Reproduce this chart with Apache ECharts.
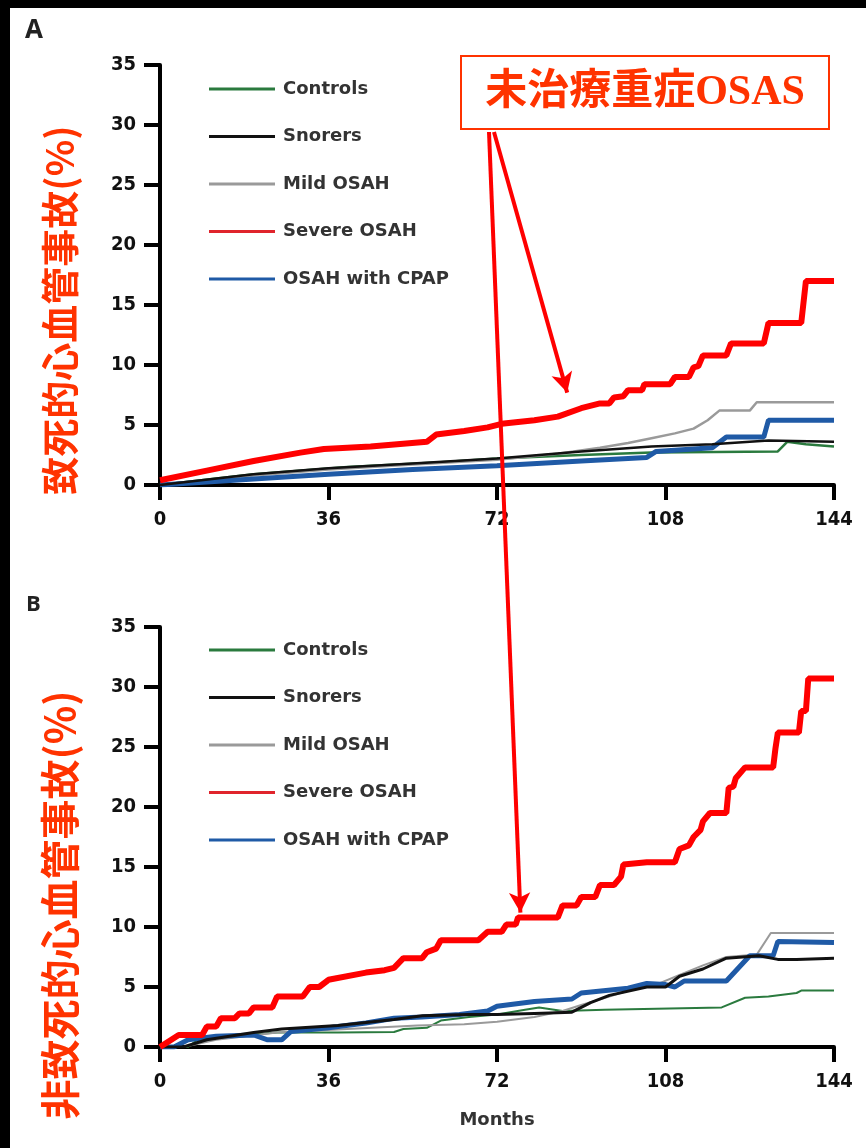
<!DOCTYPE html>
<html>
<head>
<meta charset="utf-8">
<script src="https://cdn.jsdelivr.net/npm/echarts@6/dist/echarts.min.js"></script>
<style>
  html, body { margin: 0; padding: 0; background: #fff; }
  #chart { width: 866px; height: 1148px; }
</style>
</head>
<body>
<div id="chart"></div>
<script>
// months axis + ticks
const monthTicks = [0, 36, 72, 108, 144]
const percentTicks = [0, 5, 10, 15, 20, 25, 30, 35]
const groupNames = ['Controls', 'Snorers', 'Mild OSAH', 'Severe OSAH', 'OSAH with CPAP']

// Panel A: fatal cardiovascular events, [month, %]
const aControls = [[0,0],[20,0.9],[40,1.5],[60,1.9],[72,2.2],[90,2.5],[105,2.7],[132,2.8],[134,3.6],[138,3.4],[144,3.2]]
const aSnorers = [[0,0],[20,0.9],[36,1.4],[54,1.8],[72,2.2],[90,2.8],[105,3.2],[118,3.4],[130,3.7],[144,3.6]]
const aMild = [[0,0],[20,0.8],[36,1.3],[54,1.7],[72,2.1],[85,2.6],[94,3.1],[100,3.5],[105,3.9],[110,4.3],[114,4.7],[117,5.4],[119.5,6.2],[126,6.2],[127.5,6.9],[144,6.9]]
const aSevere = [[0,0.4],[10,1.2],[20,2.0],[30,2.7],[35,3.0],[45,3.2],[57,3.6],[59,4.2],[65,4.5],[70,4.8],[73,5.1],[80,5.4],[85,5.7],[90,6.4],[94,6.8],[96,6.8],[97,7.3],[99,7.4],[100,7.9],[103,7.9],[103.5,8.4],[109,8.4],[110,9.0],[113,9.0],[114,9.8],[115,9.9],[116,10.8],[121,10.8],[122,11.8],[129,11.8],[130,13.5],[137,13.5],[138,17],[144,17]]
const aCpap = [[0,0],[20,0.5],[36,0.9],[54,1.3],[72,1.6],[90,2.0],[104,2.3],[106,2.8],[118,3.1],[121,4.0],[129,4.0],[130,5.4],[144,5.4]]

// Panel B: non-fatal cardiovascular events, [month, %]
const bControls = [[0,0],[6,0],[8,0.6],[15,0.9],[25,1.2],[38,1.2],[50,1.25],[52,1.5],[57,1.6],[60,2.2],[66,2.5],[72,2.7],[78,3.1],[81,3.3],[86,3.0],[95,3.1],[120,3.3],[125,4.1],[130,4.2],[136,4.5],[137,4.7],[144,4.7]]
const bSnorers = [[0,0],[5,0],[10,0.6],[20,1.2],[26,1.5],[38,1.8],[50,2.3],[56,2.6],[66,2.7],[72,2.7],[80,2.8],[88,2.9],[92,3.7],[96,4.3],[104,5.0],[108,5.0],[111,5.9],[116,6.5],[121,7.4],[128,7.6],[132,7.3],[136,7.3],[144,7.4]]
const bMild = [[0,0],[5,0],[12,0.6],[25,1.2],[40,1.5],[55,1.8],[65,1.9],[72,2.1],[80,2.5],[86,3.0],[90,3.5],[96,4.2],[101,4.8],[106,5.2],[111,6.0],[116,6.8],[121,7.5],[127.5,7.7],[130.5,9.5],[144,9.5]]
const bSevere = [[0,0],[4,1.0],[9,1.0],[10,1.7],[12,1.7],[13,2.4],[16,2.4],[17,2.8],[19,2.8],[20,3.3],[24,3.3],[25,4.2],[30.5,4.2],[32,5.0],[34,5.0],[36,5.6],[44,6.2],[48,6.4],[50,6.6],[52,7.4],[56,7.4],[57,7.9],[59,8.2],[60,8.9],[68,8.9],[70,9.6],[73,9.6],[74,10.2],[76,10.2],[76.5,10.8],[85,10.8],[86,11.8],[89,11.8],[90,12.5],[93,12.5],[94,13.5],[97,13.5],[98.5,14.2],[99,15.2],[104,15.4],[110,15.4],[111,16.5],[113,16.8],[114,17.5],[115.5,18.1],[116,18.8],[117.5,19.5],[121,19.5],[121.5,21.6],[122.5,21.7],[123,22.4],[125,23.3],[131,23.3],[131.5,24.9],[132,26.2],[136.5,26.2],[137,28.0],[138,28.0],[138.5,30.7],[144,30.7]]
const bCpap = [[0,0],[3,0],[6,0.6],[12,0.9],[20,1.0],[23,0.6],[26,0.6],[28,1.3],[36,1.6],[44,2.0],[50,2.4],[56,2.5],[64,2.7],[70,3.0],[72,3.4],[80,3.8],[88,4.0],[90,4.5],[100,4.9],[104,5.3],[108,5.2],[110,5.0],[112,5.5],[121,5.5],[126,7.6],[131,7.6],[132,8.8],[144,8.7]]

// arrow targets (month, %)
const arrowTargetA = [87, 7.7]
const arrowTargetB = [77, 11.2]

const colors = {
  'Controls': '#2a7a3e',
  'Snorers': '#111111',
  'Mild OSAH': '#9a9a9a',
  'Severe OSAH': '#ff0000',
  'OSAH with CPAP': '#1f5aa6',
}
const legendColors = Object.assign({}, colors, { 'Severe OSAH': '#e0242c' })

const numFont = "'Liberation Sans Narrow', 'DejaVu Sans Condensed', sans-serif"
const textFont = "'Open Sans', 'Lato', sans-serif"
const legendFont = "'DejaVu Sans', sans-serif"
const cjkFont = "'Noto Sans CJK JP', 'Noto Sans CJK SC', sans-serif"
const red = '#ff3300'

const chart = echarts.init(document.getElementById('chart'), null, { renderer: 'canvas' })

function makeXAxis(gridIndex, withName) {
  return {
    type: 'value', gridIndex: gridIndex, min: 0, max: 144, interval: 36,
    axisLine: { lineStyle: { color: '#000', width: 4 } },
    axisTick: { length: 15, lineStyle: { color: '#000', width: 4 } },
    axisLabel: { margin: 25, fontSize: 20, fontWeight: 'bold', fontFamily: numFont, color: '#111' },
    splitLine: { show: false },
    name: withName ? 'Months' : '',
    nameLocation: 'middle', nameGap: 64,
    nameTextStyle: { fontSize: 18, fontWeight: 'bold', fontFamily: legendFont, color: '#333' },
  }
}

function makeYAxis(gridIndex) {
  return {
    type: 'value', gridIndex: gridIndex, min: 0, max: 35, interval: 5,
    axisLine: { show: true, lineStyle: { color: '#000', width: 4 } },
    axisTick: { show: true, length: 16, lineStyle: { color: '#000', width: 4 } },
    axisLabel: { margin: 24, fontSize: 20, fontWeight: 'bold', fontFamily: numFont, color: '#111' },
    splitLine: { show: false },
  }
}

function makeLegend(top) {
  return {
    orient: 'vertical', left: 204, top: top,
    itemWidth: 66, itemHeight: 3, itemGap: 29.5, icon: 'rect',
    textStyle: { fontSize: 18, fontWeight: 'bold', fontFamily: legendFont, color: '#333', padding: [0, 0, 0, 3] },
    data: groupNames.map(n => ({ name: n, itemStyle: { color: legendColors[n] } })),
    selectedMode: false,
  }
}

function line(name, data, idx, width, z) {
  return {
    name: name, type: 'line', xAxisIndex: idx, yAxisIndex: idx,
    data: data, showSymbol: false, symbol: 'none', z: z,
    lineStyle: { color: colors[name], width: width },
    itemStyle: { color: colors[name] },
    animation: false,
  }
}

function arrow(target, start) {
  return {
    silent: true, animation: false,
    symbol: ['none', 'arrow'], symbolSize: [16, 20],
    label: { show: false },
    lineStyle: { color: '#ff0000', width: 4, type: 'solid' },
    data: [[{ x: start[0], y: start[1] }, { coord: target }]],
  }
}

const severeA = line('Severe OSAH', aSevere, 0, 6, 6)
severeA.markLine = arrow(arrowTargetA, [494, 132])
const severeB = line('Severe OSAH', bSevere, 1, 6, 6)
severeB.markLine = arrow(arrowTargetB, [489, 132])

const option = {
  backgroundColor: '#fff',
  animation: false,
  grid: [
    { left: 160, top: 65, width: 674, height: 420, outerBoundsMode: 'none' },
    { left: 160, top: 627, width: 674, height: 420, outerBoundsMode: 'none' },
  ],
  xAxis: [makeXAxis(0, false), makeXAxis(1, true)],
  yAxis: [makeYAxis(0), makeYAxis(1)],
  legend: [makeLegend(75), makeLegend(636)],
  series: [
    line('Controls', aControls, 0, 2.5, 2),
    line('Mild OSAH', aMild, 0, 2.5, 2),
    line('OSAH with CPAP', aCpap, 0, 5, 3),
    line('Snorers', aSnorers, 0, 2.5, 4),
    severeA,
    line('Controls', bControls, 1, 2, 2),
    line('Mild OSAH', bMild, 1, 2, 2),
    line('OSAH with CPAP', bCpap, 1, 5, 3),
    line('Snorers', bSnorers, 1, 3, 4),
    severeB,
  ],
  graphic: [
    // dark frame on top and left
    { type: 'rect', left: 0, top: 0, shape: { width: 866, height: 8 }, style: { fill: '#000' }, silent: true },
    { type: 'rect', left: 0, top: 0, shape: { width: 10, height: 1148 }, style: { fill: '#000' }, silent: true },
    // panel letters
    { type: 'text', left: 25, top: 18, style: { text: 'A', fontSize: 26, fontWeight: 'bold', fontFamily: textFont, fill: '#222' } },
    { type: 'text', left: 26, top: 594, style: { text: 'B', fontSize: 22, fontWeight: 'bold', fontFamily: textFont, fill: '#222' } },
    // vertical y titles
    { type: 'text', x: 60, y: 310, rotation: Math.PI / 2,
      style: { text: '致死的心血管事故(%)', fontSize: 38, fontWeight: 'bold', fontFamily: cjkFont, fill: red, align: 'center', verticalAlign: 'middle' } },
    { type: 'text', x: 60, y: 905, rotation: Math.PI / 2,
      style: { text: '非致死的心血管事故(%)', fontSize: 40, fontWeight: 'bold', fontFamily: cjkFont, fill: red, align: 'center', verticalAlign: 'middle' } },
    // annotation box
    { type: 'rect', z: 20, shape: { x: 461, y: 56, width: 368, height: 73 }, style: { fill: '#fff', stroke: red, lineWidth: 2 } },
    { type: 'text', z: 21, x: 645, y: 93,
      style: { text: '未治療重症OSAS', fontSize: 42, fontWeight: 'bold', fontFamily: "'Liberation Serif', 'Noto Sans CJK JP', serif", fill: red, align: 'center', verticalAlign: 'middle' } },
  ],
}

chart.setOption(option)
</script>
</body>
</html>
